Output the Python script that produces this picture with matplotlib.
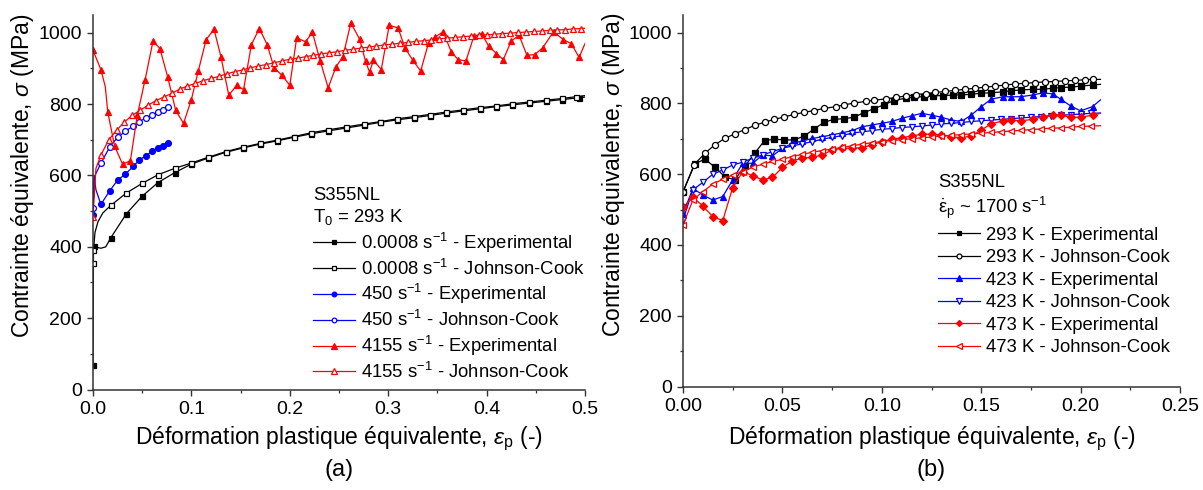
import numpy as np
import matplotlib
matplotlib.use("Agg")
import matplotlib.pyplot as plt
from matplotlib.ticker import MultipleLocator, FormatStrFormatter

plt.rcParams['font.family'] = ['Liberation Sans', 'DejaVu Sans']
plt.rcParams['mathtext.fontset'] = 'custom'
plt.rcParams['mathtext.rm'] = 'Liberation Sans'
plt.rcParams['mathtext.it'] = 'Liberation Sans:italic'

# ---- (a) S355NL, T0 = 293 K, different strain rates ----
exp0008_x = [0.0, 0.0005, 0.001, 0.005, 0.008, 0.013, 0.018, 0.034, 0.050, 0.066, 0.083,
             0.100, 0.117, 0.135, 0.152, 0.170, 0.187, 0.204, 0.222, 0.239, 0.257, 0.275,
             0.292, 0.309, 0.326, 0.342, 0.359, 0.376, 0.393, 0.410, 0.426, 0.443, 0.460,
             0.477, 0.494, 0.5]
exp0008_y = [70, 390, 403, 398, 396, 400, 425, 493, 542, 580, 608,
             632, 649, 665, 677, 688, 697, 707, 717, 725, 733, 741,
             749, 756, 762, 768, 775, 781, 787, 793, 798, 803, 808,
             813, 818, 820]

jc0008_x = [0.0, 0.0005, 0.002, 0.005, 0.010, 0.018, 0.034, 0.050, 0.066, 0.083, 0.100,
            0.117, 0.135, 0.152, 0.170, 0.187, 0.204, 0.222, 0.239, 0.257, 0.275, 0.292,
            0.309, 0.326, 0.342, 0.359, 0.376, 0.393, 0.410, 0.426, 0.443, 0.460, 0.477,
            0.491, 0.5]
jc0008_y = [354, 391, 440, 470, 495, 516, 551, 578, 602, 620, 635,
            651, 667, 679, 690, 699, 709, 720, 728, 736, 744, 751,
            759, 765, 771, 778, 784, 790, 795, 801, 806, 811, 816,
            821, 824]

exp450_x = [0.0, 0.001, 0.003, 0.008, 0.017, 0.025, 0.033, 0.041, 0.047, 0.054, 0.060,
            0.066, 0.071, 0.076]
exp450_y = [490, 600, 560, 519, 557, 587, 604, 626, 643, 656, 668, 678, 684, 692]

jc450_x = [0.0, 0.002, 0.008, 0.017, 0.025, 0.033, 0.041, 0.047, 0.054, 0.060, 0.066,
           0.071, 0.076]
jc450_y = [509, 600, 634, 680, 707, 724, 739, 751, 762, 770, 777, 783, 791]

exp4155_x = [0.0, 0.008, 0.0125, 0.015, 0.022, 0.030, 0.038, 0.045, 0.053, 0.061, 0.068,
             0.076, 0.084, 0.092, 0.100, 0.107, 0.115, 0.123, 0.130, 0.138, 0.146, 0.153,
             0.161, 0.169, 0.177, 0.184, 0.192, 0.200, 0.207, 0.216, 0.223, 0.231, 0.239,
             0.247, 0.254, 0.262, 0.271, 0.277, 0.281, 0.285, 0.293, 0.301, 0.310, 0.317,
             0.325, 0.333, 0.341, 0.348, 0.356, 0.364, 0.371, 0.379, 0.387, 0.395, 0.402,
             0.410, 0.417, 0.425, 0.433, 0.441, 0.449, 0.457, 0.468, 0.478, 0.486, 0.494,
             0.5]
exp4155_y = [951, 897, 849, 778, 682, 632, 641, 769, 869, 977, 956,
             875, 783, 746, 813, 893, 981, 1010, 933, 825, 853, 841,
             967, 1012, 967, 902, 881, 853, 986, 975, 1001, 920, 846,
             905, 933, 1028, 982, 920, 890, 923, 897, 1021, 1014, 958,
             923, 893, 972, 989, 1003, 947, 925, 921, 990, 998, 963,
             942, 925, 977, 993, 937, 939, 958, 1003, 981, 970, 931,
             970]

jc4155_x = [0.0, 0.003, 0.008, 0.016, 0.024, 0.032, 0.040, 0.048, 0.056, 0.064, 0.072,
            0.080, 0.088, 0.096, 0.104, 0.112, 0.120, 0.128, 0.136, 0.144, 0.152, 0.160,
            0.168, 0.176, 0.184, 0.192, 0.200, 0.208, 0.216, 0.224, 0.232, 0.240, 0.248,
            0.256, 0.264, 0.272, 0.280, 0.288, 0.296, 0.304, 0.312, 0.320, 0.328, 0.336,
            0.344, 0.352, 0.360, 0.368, 0.376, 0.384, 0.392, 0.400, 0.408, 0.416, 0.424,
            0.432, 0.440, 0.448, 0.456, 0.464, 0.472, 0.480, 0.488, 0.496, 0.5]
jc4155_y = [484, 620, 657, 700, 727, 750, 769, 783, 797, 810, 820,
            830, 842, 851, 858, 866, 872, 878, 885, 891, 896, 902,
            907, 911, 916, 921, 926, 929, 933, 937, 941, 944, 947,
            951, 954, 957, 960, 963, 966, 968, 971, 973, 976, 978,
            980, 983, 985, 987, 989, 991, 993, 994, 996, 998, 999,
            1001, 1002, 1004, 1005, 1007, 1008, 1009, 1011, 1012, 1013]

# ---- (b) S355NL, ~1700 s-1, different temperatures ----
exp293_x = [0.0, 0.006, 0.011, 0.016, 0.021, 0.026, 0.031, 0.036, 0.041, 0.046, 0.051,
            0.056, 0.061, 0.066, 0.071, 0.076, 0.081, 0.086, 0.091, 0.096, 0.101, 0.106,
            0.112, 0.116, 0.121, 0.126, 0.131, 0.136, 0.140, 0.145, 0.150, 0.155, 0.161,
            0.165, 0.170, 0.176, 0.181, 0.186, 0.190, 0.195, 0.200, 0.206, 0.210]
exp293_y = [551, 629, 643, 620, 593, 584, 622, 659, 695, 699, 697,
            697, 708, 728, 747, 755, 757, 761, 774, 785, 796, 808,
            815, 818, 819, 822, 822, 824, 824, 826, 829, 830, 833,
            836, 838, 840, 840, 843, 845, 846, 849, 852, 854]

jc293_x = [0.0, 0.0056, 0.011, 0.016, 0.021, 0.026, 0.031, 0.036, 0.041, 0.046, 0.051,
           0.056, 0.061, 0.066, 0.071, 0.077, 0.081, 0.086, 0.092, 0.096, 0.102, 0.107,
           0.112, 0.117, 0.122, 0.127, 0.132, 0.137, 0.142, 0.147, 0.152, 0.157, 0.162,
           0.167, 0.172, 0.177, 0.182, 0.187, 0.192, 0.197, 0.202, 0.206, 0.210]
jc293_y = [549, 627, 659, 683, 701, 714, 726, 738, 747, 755, 762,
           769, 775, 780, 786, 791, 796, 801, 806, 809, 813, 817,
           821, 825, 828, 831, 834, 837, 840, 843, 846, 849, 852,
           855, 857, 859, 861, 862, 864, 865, 867, 868, 868]

exp423_x = [0.0, 0.005, 0.010, 0.015, 0.020, 0.025, 0.030, 0.035, 0.040, 0.045, 0.050,
            0.055, 0.060, 0.065, 0.070, 0.075, 0.080, 0.085, 0.090, 0.095, 0.100, 0.105,
            0.110, 0.115, 0.120, 0.125, 0.130, 0.135, 0.140, 0.145, 0.150, 0.155, 0.161,
            0.165, 0.170, 0.176, 0.181, 0.186, 0.190, 0.195, 0.200, 0.206, 0.210]
exp423_y = [488, 560, 541, 527, 537, 584, 631, 631, 654, 652, 673,
            687, 694, 701, 706, 711, 717, 723, 734, 739, 744, 749,
            758, 765, 772, 767, 761, 753, 749, 767, 791, 812, 819,
            819, 819, 824, 830, 827, 812, 793, 779, 791, 810]

jc423_x = [0.0, 0.005, 0.010, 0.015, 0.020, 0.025, 0.030, 0.035, 0.040, 0.045, 0.050,
           0.055, 0.060, 0.065, 0.070, 0.075, 0.080, 0.085, 0.090, 0.095, 0.100, 0.105,
           0.110, 0.115, 0.120, 0.125, 0.130, 0.135, 0.140, 0.145, 0.150, 0.155, 0.160,
           0.165, 0.170, 0.175, 0.180, 0.185, 0.190, 0.195, 0.200, 0.205, 0.210]
jc423_y = [471, 556, 577, 600, 612, 626, 634, 645, 654, 664, 673,
           680, 686, 692, 699, 704, 709, 716, 720, 723, 727, 729,
           732, 734, 736, 739, 742, 744, 746, 749, 751, 753, 755,
           757, 759, 761, 763, 765, 767, 768, 770, 772, 773]

exp473_x = [0.0, 0.005, 0.010, 0.015, 0.020, 0.025, 0.030, 0.035, 0.040, 0.045, 0.050,
            0.055, 0.060, 0.065, 0.070, 0.075, 0.080, 0.085, 0.090, 0.095, 0.100, 0.105,
            0.110, 0.115, 0.120, 0.125, 0.130, 0.135, 0.140, 0.145, 0.150, 0.155, 0.161,
            0.165, 0.170, 0.176, 0.181, 0.186, 0.190, 0.195, 0.200, 0.206, 0.210]
exp473_y = [507, 535, 510, 480, 469, 562, 607, 596, 584, 591, 619,
            638, 645, 648, 654, 669, 673, 673, 675, 683, 692, 699,
            703, 708, 713, 713, 711, 706, 703, 708, 725, 742, 751,
            753, 751, 755, 763, 766, 767, 761, 761, 767, 772]

jc473_x = [0.0, 0.005, 0.010, 0.015, 0.020, 0.025, 0.030, 0.035, 0.040, 0.045, 0.050,
           0.055, 0.060, 0.065, 0.070, 0.075, 0.080, 0.085, 0.090, 0.095, 0.100, 0.105,
           0.110, 0.115, 0.120, 0.125, 0.130, 0.135, 0.140, 0.145, 0.150, 0.155, 0.160,
           0.165, 0.170, 0.175, 0.180, 0.185, 0.190, 0.195, 0.200, 0.205, 0.210]
jc473_y = [457, 527, 551, 572, 586, 598, 607, 620, 628, 636, 642,
           650, 656, 662, 667, 671, 676, 680, 685, 689, 692, 695,
           698, 700, 703, 705, 708, 710, 712, 714, 716, 718, 720,
           722, 724, 726, 728, 730, 731, 733, 735, 736, 737]

fig = plt.figure(figsize=(12.03, 4.90), dpi=100)
ax1 = fig.add_axes([93 / 1203, 0.2051, 492 / 1203, 0.7643])
ax2 = fig.add_axes([683 / 1203, 0.2112, 497 / 1203, 0.7582])

lw = 0.9


def curve(ax, x, y, color, marker, filled, label, ms=4.2, every=None):
    ax.plot(x, y, color=color, lw=lw, marker=marker, ms=ms, mew=0.9,
            mfc=color if filled else 'white', mec=color,
            markevery=every, label=label)


# panel (a)
curve(ax1, exp0008_x, exp0008_y, 'black', 's', True, '0.0008 s$^{-1}$ - Experimental',
      ms=3.6, every=[0, 2] + list(range(6, len(exp0008_x) - 1)))
curve(ax1, jc0008_x, jc0008_y, 'black', 's', False, '0.0008 s$^{-1}$ - Johnson-Cook',
      ms=3.6, every=[0, 1] + list(range(5, len(jc0008_x) - 1)))
curve(ax1, exp450_x, exp450_y, 'blue', 'o', True, '450 s$^{-1}$ - Experimental',
      ms=4.2, every=[0] + list(range(3, len(exp450_x))))
curve(ax1, jc450_x, jc450_y, 'blue', 'o', False, '450 s$^{-1}$ - Johnson-Cook',
      ms=4.2, every=[0] + list(range(2, len(jc450_x))))
curve(ax1, exp4155_x, exp4155_y, 'red', '^', True, '4155 s$^{-1}$ - Experimental',
      ms=4.6, every=[0, 1] + list(range(3, len(exp4155_x) - 1)))
curve(ax1, jc4155_x, jc4155_y, 'red', '^', False, '4155 s$^{-1}$ - Johnson-Cook',
      ms=4.6, every=[0] + list(range(2, len(jc4155_x) - 1)))

# panel (b)
curve(ax2, exp293_x, exp293_y, 'black', 's', True, '293 K - Experimental',
      ms=4.2, every=list(range(len(exp293_x) - 1)))
curve(ax2, jc293_x, jc293_y, 'black', 'o', False, '293 K - Johnson-Cook',
      ms=4.4, every=list(range(len(jc293_x) - 1)))
curve(ax2, exp423_x, exp423_y, 'blue', '^', True, '423 K - Experimental',
      ms=4.8, every=list(range(len(exp423_x) - 1)))
curve(ax2, jc423_x, jc423_y, 'blue', 'v', False, '423 K - Johnson-Cook',
      ms=4.8, every=list(range(len(jc423_x) - 1)))
curve(ax2, exp473_x, exp473_y, 'red', 'D', True, '473 K - Experimental',
      ms=3.8, every=list(range(len(exp473_x) - 1)))
curve(ax2, jc473_x, jc473_y, 'red', '<', False, '473 K - Johnson-Cook',
      ms=4.8, every=list(range(len(jc473_x) - 1)))

ylab = 'Contrainte équivalente, $\\mathit{σ}$ (MPa)'
xlab = 'Déformation plastique équivalente, $\\mathit{ε}_\\mathrm{p}$ (-)'

for ax, xmax, xmaj, fmt in [(ax1, 0.5, 0.1, '%.1f'), (ax2, 0.25, 0.05, '%.2f')]:
    ax.set_xlim(0, xmax)
    ax.set_ylim(0, 1050)
    ax.xaxis.set_major_locator(MultipleLocator(xmaj))
    ax.xaxis.set_minor_locator(MultipleLocator(xmaj / 2))
    ax.xaxis.set_major_formatter(FormatStrFormatter(fmt))
    ax.yaxis.set_major_locator(MultipleLocator(200))
    ax.yaxis.set_minor_locator(MultipleLocator(100))
    for s in ['top', 'right']:
        ax.spines[s].set_visible(False)
    for s in ['left', 'bottom']:
        ax.spines[s].set_linewidth(1.1)
        ax.spines[s].set_color('#333333')
    ax.tick_params(which='major', direction='out', length=4, width=1.0,
                   labelsize=14, pad=4, color='#333333')
    ax.tick_params(which='minor', direction='out', length=2.5, width=0.9,
                   color='#333333')
    ax.set_xlabel(xlab, fontsize=16.5)
    ax.set_ylabel(ylab, fontsize=16.5)

ax1.yaxis.set_label_coords(-0.116, 0.57)
ax2.yaxis.set_label_coords(-0.112, 0.57)
ax1.xaxis.set_label_coords(0.5, -0.095)
ax2.xaxis.set_label_coords(0.5, -0.103)

leg_kw = dict(frameon=False, fontsize=13.3, title_fontsize=13.3, borderpad=0,
              borderaxespad=0, handlelength=2.3, handletextpad=0.3, markerscale=0.8,
              alignment='left', loc='upper left', bbox_transform=fig.transFigure)
ax1.legend(title='S355NL\nT$_0$ = 293 K', labelspacing=0.2,
           bbox_to_anchor=(313 / 1203, 1 - 187 / 490), **leg_kw)
ax2.legend(title='S355NL\n$\\dot{\\mathrm{ε}}_\\mathrm{p}$ ~ 1700 s$^{-1}$', labelspacing=0.3,
           bbox_to_anchor=(938 / 1203, 1 - 174 / 490), **leg_kw)

fig.text((93 + 585) / 2 / 1203, 20 / 490, '(a)', ha='center', va='center', fontsize=17)
fig.text((683 + 1180) / 2 / 1203, 20 / 490, '(b)', ha='center', va='center', fontsize=17)

fig.savefig('out.png', dpi=100)
